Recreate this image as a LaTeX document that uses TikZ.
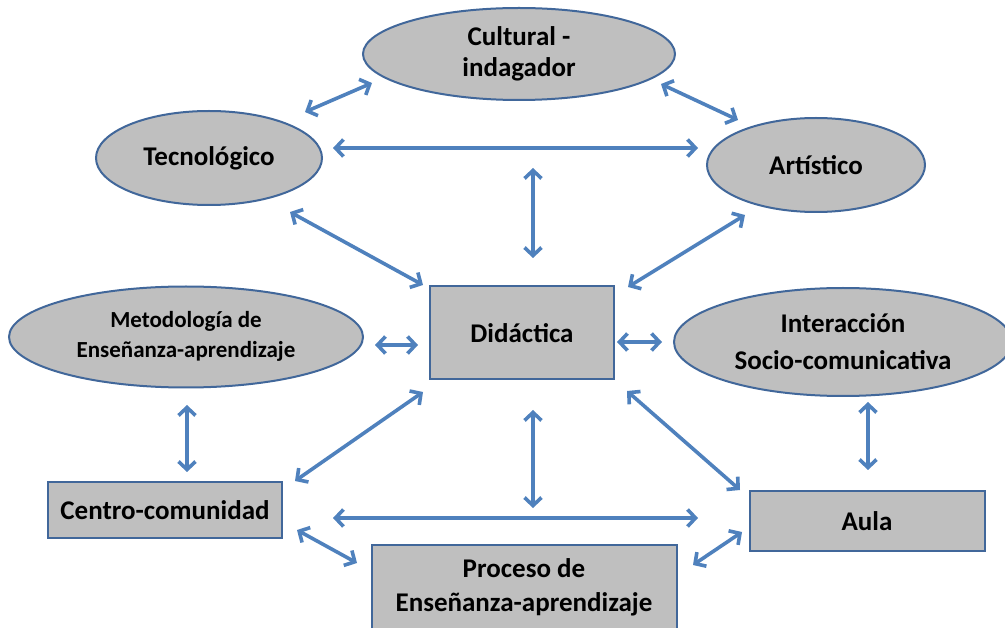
\documentclass[tikz,border=0pt]{standalone}
\usepackage{fontspec}
\setmainfont{Carlito}
\usetikzlibrary{shapes.geometric,arrows.meta}
\definecolor{fillgray}{HTML}{BFBFBF}
\definecolor{edgeblue}{HTML}{41679A}
\definecolor{arrowblue}{HTML}{4F81BD}
\tikzset{
  ell/.style={ellipse,draw=edgeblue,line width=2pt,fill=fillgray,inner sep=0pt,align=center,font=\bfseries\fontsize{27}{31}\selectfont},
  boxnode/.style={rectangle,draw=edgeblue,line width=2pt,fill=fillgray,inner sep=0pt,align=center,font=\bfseries\fontsize{27}{34}\selectfont},
  link/.style={draw=arrowblue,line width=3.6pt,{Straight Barb[length=8pt,width=17pt]}-{Straight Barb[length=8pt,width=17pt]}}
}
\begin{document}
\begin{tikzpicture}[x=1pt,y=-1pt]
\useasboundingbox (0,0) rectangle (1005,628);
% ellipses
\node[ell,minimum width=312pt,minimum height=92pt] (cul) at (519,54) {Cultural -\\indagador};
\node[ell,minimum width=226pt,minimum height=94pt] (tec) at (209,158) {Tecnológico};
\node[ell,minimum width=218pt,minimum height=94pt] (art) at (816,165) {Artístico};
\node[ell,minimum width=354pt,minimum height=101pt,font=\bfseries\fontsize{23}{30}\selectfont] (met) at (186,337) {\raisebox{-4pt}{\begin{tabular}{@{}c@{}}Metodología de\\Enseñanza-aprendizaje\end{tabular}}};
\node[ell,minimum width=338pt,minimum height=108pt,font=\bfseries\fontsize{27}{37}\selectfont] (int) at (843,342) {Interacción\\Socio-comunicativa};
% boxes
\node[boxnode,minimum width=184pt,minimum height=93pt] (did) at (522,333) {Didáctica};
\node[boxnode,minimum width=234pt,minimum height=55pt] (cen) at (165,510) {Centro-comunidad};
\node[boxnode,minimum width=235pt,minimum height=60pt] (aul) at (867,521) {Aula};
\node[boxnode,minimum width=305pt,minimum height=84pt] (pro) at (524,587) {Proceso de\\Enseñanza-aprendizaje};
% arrow end points
\coordinate (a1) at (305,112); \coordinate (b1) at (372,83);
\coordinate (a2) at (661,84); \coordinate (b2) at (738,120);
\coordinate (a3) at (333,148); \coordinate (b3) at (698,148);
\coordinate (a4) at (533,168); \coordinate (b4) at (533,258);
\coordinate (a5) at (290,212); \coordinate (b5) at (423,285);
\coordinate (a6) at (745,215); \coordinate (b6) at (628,287);
\coordinate (a7) at (375,345); \coordinate (b7) at (418,345);
\coordinate (a8) at (617,342); \coordinate (b8) at (662,342);
\coordinate (a9) at (187,405); \coordinate (b9) at (187,472);
\coordinate (a10) at (868,402); \coordinate (b10) at (868,470);
\coordinate (a11) at (423,392); \coordinate (b11) at (295,481);
\coordinate (a12) at (627,391); \coordinate (b12) at (740,490);
\coordinate (a13) at (533,410); \coordinate (b13) at (533,508);
\coordinate (a14) at (333,518); \coordinate (b14) at (698,518);
\coordinate (a15) at (297,530); \coordinate (b15) at (357,563);
\coordinate (a16) at (693,565); \coordinate (b16) at (742,532);
\foreach \i in {1,...,16} \draw[link] (a\i) -- (b\i);
\end{tikzpicture}
\end{document}
